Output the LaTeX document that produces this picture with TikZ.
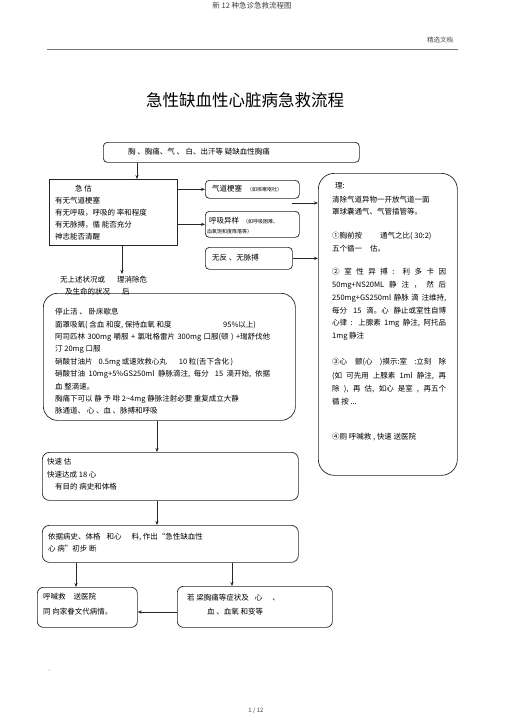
\documentclass[tikz,border=0pt]{standalone}
\usepackage{fontspec}
\setmainfont{Noto Sans CJK SC}
\usetikzlibrary{arrows.meta}
\begin{document}
\begin{tikzpicture}[x=1pt,y=-1pt,
  box/.style={draw=black!85, line width=0.7pt, anchor=north west, inner sep=0pt},
  txt/.style={anchor=north west, inner sep=0pt, align=left, font=\fontsize{7.5}{#1}\selectfont},
  txt/.default=12.5,
  small/.style={anchor=north west, inner sep=0pt, align=left, font=\fontsize{5}{6}\selectfont},
  arr/.style={draw=black!85, line width=0.8pt, -{Stealth[length=4pt,width=3.2pt]}}]
\useasboundingbox (0,0) rectangle (505,715);
\fill[white] (0,0) rectangle (505,715);

% header
\node[font=\fontsize{7.5}{9}\selectfont, text=black!75] (hdr) at (252,6) {新 12 种急诊急救流程图};
\node[font=\fontsize{6.5}{8}\selectfont, text=black!70] (tag) at (440,40) {精选文档};
\coordinate (rl) at (47,49); \coordinate (rr) at (458,49);
\draw[black!55, line width=0.8pt] (rl) -- (rr);
\node[font=\fontsize{16.5}{20}\selectfont] (title) at (245,100) {急性缺血性心脏病急救流程};

% boxes
\node[box, rounded corners=4pt, minimum width=256pt, minimum height=20pt] (b1) at (103,142) {};
\node[box, minimum width=128pt, minimum height=66pt] (b2) at (49,179) {};
\node[box, rounded corners=4pt, minimum width=94pt, minimum height=18pt] (bq) at (205,180) {};
\node[box, rounded corners=4pt, minimum width=94pt, minimum height=26pt] (bh) at (205,211) {};
\node[box, rounded corners=4pt, minimum width=87pt, minimum height=22pt] (bw) at (205,247) {};
\node[box, rounded corners=16pt, minimum width=139pt, minimum height=302pt] (bR) at (318,173) {};
\node[box, rounded corners=14pt, minimum width=252pt, minimum height=127pt] (b3) at (43,293) {};
\node[box, rounded corners=7pt, minimum width=256pt, minimum height=48pt] (b4) at (42,452) {};
\node[box, rounded corners=7pt, minimum width=256pt, minimum height=37pt] (b5) at (42,525) {};
\node[box, rounded corners=6pt, minimum width=100pt, minimum height=40pt] (b6) at (37,587) {};
\node[box, rounded corners=6pt, minimum width=155pt, minimum height=41pt] (b7) at (177,586) {};

% texts
\node[txt] (t1) at (128,148.2) {胸 、胸痛、气 、 白、出汗等 疑缺血性胸痛};
\node[txt=12] (t2) at (55,185.2) {\hspace*{20pt}急 估\\有无气道梗塞\\有无呼吸，呼吸的 率和程度\\有无脉搏，循 能否充分\\神志能否清醒};
\node[txt] (tq) at (212,185.2) {气道梗塞\hspace{5pt}{\fontsize{5}{6}\selectfont （如咳嗽呕吐）}};
\node[txt] (th1) at (209,217.2) {呼吸异样\hspace{4pt}{\fontsize{5}{6}\selectfont （如呼吸困难、}};
\node[small] (th2) at (207,229.5) {血氧饱和度降落等）};
\node[txt] (tw) at (212,254.2) {无反 、无脉搏};

\node[txt] (r1) at (335,182.2) {理:};
\node[txt=12] (r2) at (332,196.2) {清除气道异物一开放气道一面\\罩球囊通气、气管插管等。};
\node[txt=13] (r3) at (332,232.2) {①胸前按\hspace{18pt}通气之比( 30:2)\\五个循一\hspace{8pt}估。};
\node[txt=12.8] (r4) at (332,268.2) {\makebox[114pt][s]{② 室 性 异 搏 : 利 多 卡 因}\\
\makebox[114pt][s]{50mg+NS20ML 静 注 ， 然 后}\\
\makebox[114pt][s]{250mg+GS250ml 静脉 滴 注维持,}\\
\makebox[114pt][s]{每分\hspace{6pt}15 滴。心 静止或室性自博}\\
\makebox[114pt][s]{心律 : 上腺素 1mg 静注, 阿托品}\\
1mg 静注};
\node[txt=13.3] (r5) at (332,358.2) {\makebox[114pt][s]{③心\hspace{8pt}颤(心 )摸示:室 :立刻 除}\\
\makebox[114pt][s]{(如 可先用 上腺素 1ml 静注, 再}\\
\makebox[114pt][s]{除 ), 再 估, 如心 是室 , 再五个}\\
循 按 ...};
\node[txt] (r6) at (332,433.2) {④厕 呼喊救 , 快速 送医院};

\node[txt] (u1) at (60,276.2) {无上述状况或\hspace{12pt}理消除危};
\node[txt] (u2) at (65,288.2) {及生命的状况\hspace{12pt}后};

\node[txt=12.4] (t3) at (55,308.2) {停止活 、 卧床歇息\\
\makebox[168pt][l]{面罩吸氧( 含血 和度, 保持血氧 和度}95\%以上)\\
\makebox[215pt][s]{阿司匹林 300mg 嚼服 + 氯吡格雷片 300mg 口服(顿 ) +瑞舒伐他}\\
汀 20mg 口服\\
硝酸甘油片\hspace{6pt}0.5mg 或速效救心丸\hspace{12pt}10 粒(舌下含化 )\\
\makebox[215pt][s]{硝酸甘油 10mg+5\%GS250ml 静脉滴注, 每分\hspace{6pt}15 滴开始, 依据}\\
血 整滴速。\\
胸痛下可以 静 予 啡 2\textasciitilde4mg 静脉注射必要 重复成立大静\\
脉通道、 心 、血 、脉搏和呼吸};

\node[txt] (t4) at (47,458.2) {快速 估\\快速达成 18 心\\\hspace*{8pt}有目的 病史和体格};
\node[txt=11.5] (t5) at (48,533.2) {依据病史、体格\hspace{6pt}和心\hspace{10pt}料, 作出“急性缺血性\\心 病”初步 断};
\node[txt=15] (t6) at (43,593.2) {呼喊救\hspace{8pt}送医院\\同 向家眷文代病情。};
\node[txt] (t7a) at (187,594.2) {若 梁胸痛等症状及\hspace{6pt}心\hspace{10pt}、};
\node[txt] (t7b) at (207,608.2) {血 、血氧 和变等};

% connectors
\coordinate (x137) at (137,0);
\coordinate (x122) at (122,0);
\coordinate (x157) at (157,0);
\coordinate (x76) at (76,0);
\coordinate (x232) at (232,0);
\coordinate (y612) at (0,612);
\coordinate (s203) at (292,203);
\coordinate (e1) at (122,274);
\draw[arr] (b1.south -| x137) -- (b2.north -| x137);
\draw[arr] (b2.east |- bq.west) -- (bq.west);
\draw[arr] (b2.east |- bh.west) -- (bh.west);
\draw[arr] (s203) -- (s203 -| bR.west);
\draw[arr] (bw.east) -- (bw.east -| bR.west);
\draw[arr] (b2.south -| x122) -- (e1);
\draw[arr] (b3.south -| x157) -- (b4.north -| x157);
\draw[arr] (b4.south -| x157) -- (b5.north -| x157);
\draw[arr] (b5.south -| x76) -- (b6.north -| x76);
\draw[arr] (b5.south -| x232) -- (b7.north -| x232);
\draw[arr] (b7.west |- y612) -- (b6.east |- y612);

% footer
\fill[black!60] (49,670) circle (0.5);
\node[font=\fontsize{6}{7}\selectfont, text=black!75] (ftr) at (256,711) {1 / 12};
\end{tikzpicture}
\end{document}
